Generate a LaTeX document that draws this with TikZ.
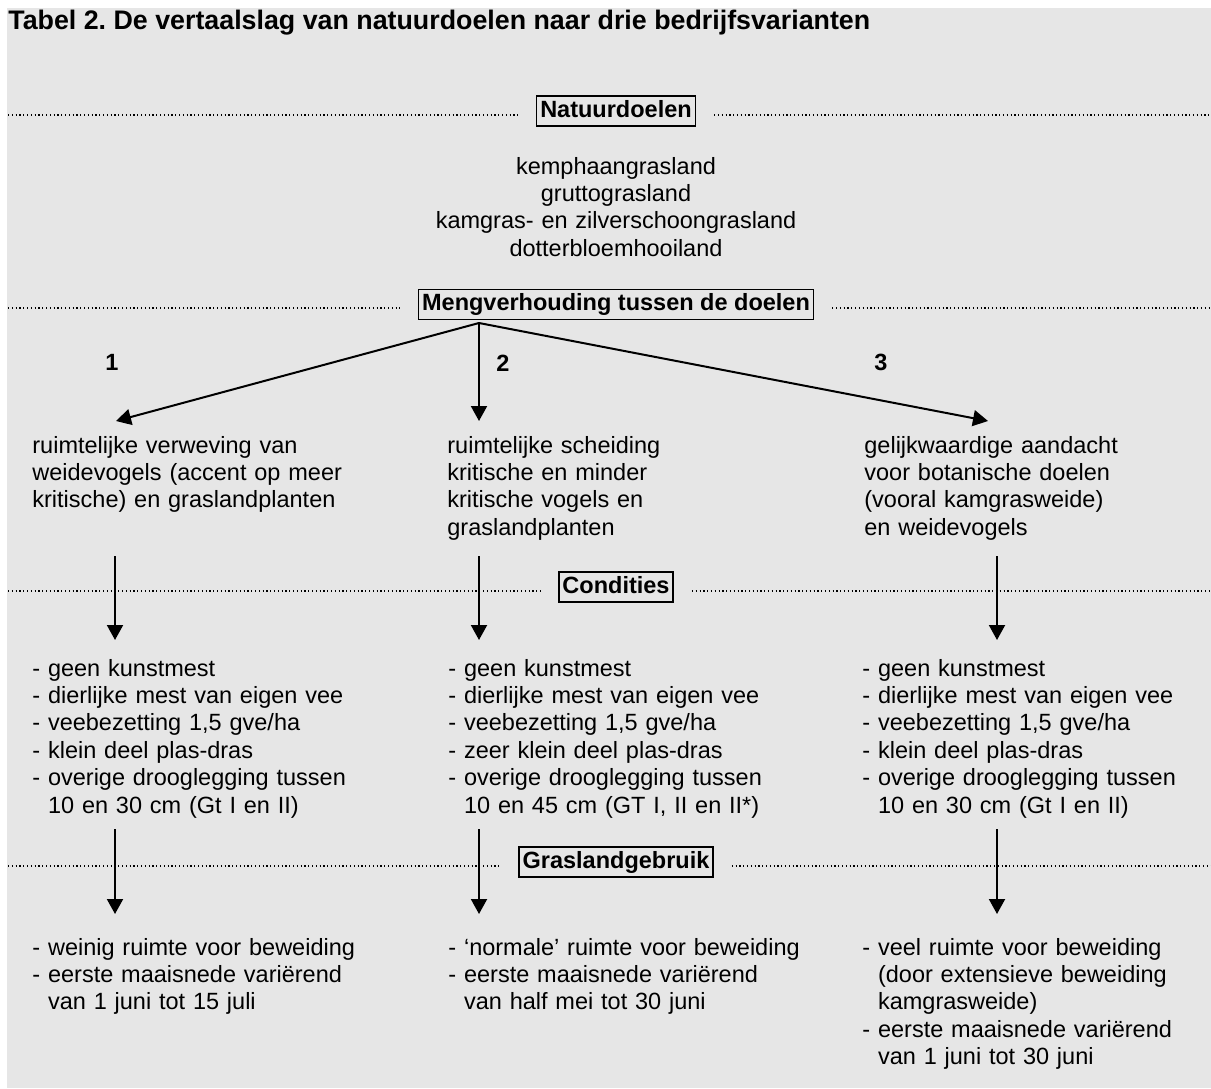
\documentclass[tikz,border=0pt]{standalone}
\usepackage{fontspec}
\setmainfont{Liberation Sans}
\usetikzlibrary{arrows.meta,calc,positioning}
\definecolor{achtergrond}{RGB}{230,230,230}
\frenchspacing
\begin{document}
\begin{tikzpicture}[x=0.5pt, y=-0.5pt, font=\fontsize{11.75pt}{13.7pt}\selectfont,
  kop/.style = {draw, line width=0.8pt, font=\fontsize{11.75pt}{13.7pt}\selectfont\bfseries, inner xsep=1.8pt, inner ysep=1.8pt, text height=8.8pt, text depth=2.5pt},
  stip/.style = {line width=0.6pt, dash pattern=on 0.6pt off 1.3pt},
  pijl/.style = {-{Triangle[length=7.5pt,width=8pt]}, line width=1pt},
  tekst/.style = {anchor=base west, inner sep=0pt, text width=200pt, align=left},
  nr/.style = {anchor=base, inner sep=0pt, font=\fontsize{11.75pt}{13.7pt}\selectfont\bfseries}]
\useasboundingbox (0,0) rectangle (1211,1088);
\fill[achtergrond] (7,8) rectangle (1211,1088);

\node[anchor=base west, inner sep=0pt, font=\fontsize{13.4pt}{15pt}\selectfont\bfseries] (titel) at (8,29) {Tabel 2. De vertaalslag van natuurdoelen naar drie bedrijfsvarianten};

\node[kop] (doelen) at (616,111) {Natuurdoelen};
\node[kop] (meng)   at (616,304.5) {Mengverhouding tussen de doelen};
\node[kop] (cond)   at (616,587) {Condities};
\node[kop] (gras)   at (616,862) {Graslandgebruik};

\foreach \k/\y in {doelen/115, meng/308, cond/591, gras/866} {
  \draw[stip] (8,\y) -- ($(\k.west |- 0,\y)+(-18,0)$);
  \draw[stip] ($(\k.east |- 0,\y)+(18,0)$) -- (1211,\y);
}

\node[tekst, anchor=base, align=center, text width=250pt] (lijst) at (616,174) {kemphaangrasland\\ gruttograsland\\ kamgras- en zilverschoongrasland\\ dotterbloemhooiland};

\node[nr] (n1) at (112,370) {1};
\node[nr] (n2) at (503,371) {2};
\node[nr] (n3) at (881,370) {3};

\node[tekst] (k1) at (32,453) {ruimtelijke verweving van\\ weidevogels (accent op meer\\ kritische) en graslandplanten};
\node[tekst] (k2) at (447,453) {ruimtelijke scheiding\\ kritische en minder\\ kritische vogels en\\ graslandplanten};
\node[tekst] (k3) at (864,453) {gelijkwaardige aandacht\\ voor botanische doelen\\ (vooral kamgrasweide)\\ en weidevogels};

\coordinate (top) at (479,323);
\coordinate (p1) at (116,421);
\coordinate (p2) at (479,421);
\coordinate (p3) at (988,421);
\foreach \p in {p1,p2,p3} \draw[pijl] (top) -- (\p);

\foreach \x [count=\i] in {115,479,997} {
  \coordinate (s\i) at (\x,556);
  \coordinate (e\i) at (\x,640);
  \coordinate (u\i) at (\x,829);
  \coordinate (v\i) at (\x,914);
  \draw[pijl] (s\i) -- (e\i);
  \draw[pijl] (u\i) -- (v\i);
}

\node[tekst] (l1) at (32,676) {- geen kunstmest\\ - dierlijke mest van eigen vee\\ - veebezetting 1,5 gve/ha\\ - klein deel plas-dras\\ - overige drooglegging tussen\\ \phantom{- }10 en 30 cm (Gt I en II)};
\node[tekst] (l2) at (448,676) {- geen kunstmest\\ - dierlijke mest van eigen vee\\ - veebezetting 1,5 gve/ha\\ - zeer klein deel plas-dras\\ - overige drooglegging tussen\\ \phantom{- }10 en 45 cm (GT I, II en II*)};
\node[tekst] (l3) at (862,676) {- geen kunstmest\\ - dierlijke mest van eigen vee\\ - veebezetting 1,5 gve/ha\\ - klein deel plas-dras\\ - overige drooglegging tussen\\ \phantom{- }10 en 30 cm (Gt I en II)};

\node[tekst] (g1) at (32,955) {- weinig ruimte voor beweiding\\ - eerste maaisnede variërend\\ \phantom{- }van 1 juni tot 15 juli};
\node[tekst] (g2) at (448,955) {- ‘normale’ ruimte voor beweiding\\ - eerste maaisnede variërend\\ \phantom{- }van half mei tot 30 juni};
\node[tekst] (g3) at (862,955) {- veel ruimte voor beweiding\\ \phantom{- }(door extensieve beweiding\\ \phantom{- }kamgrasweide)\\ - eerste maaisnede variërend\\ \phantom{- }van 1 juni tot 30 juni};
\end{tikzpicture}
\end{document}
